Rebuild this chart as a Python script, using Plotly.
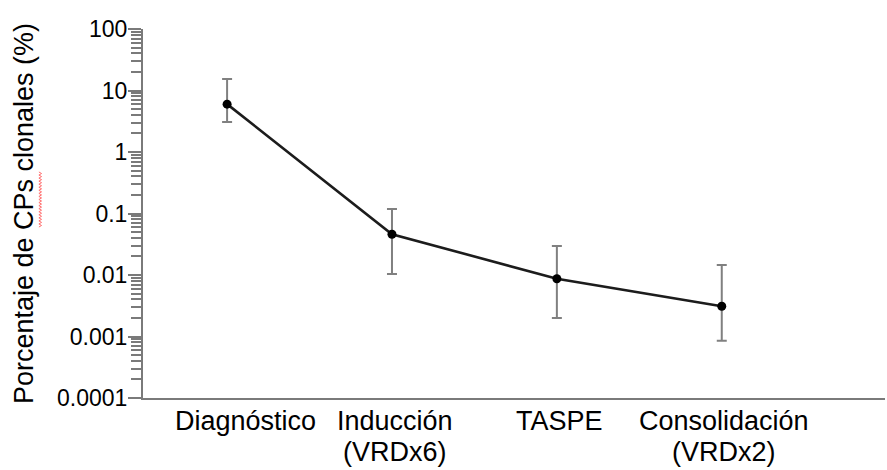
import plotly.graph_objects as go

# Treatment stages (x categories): main name and optional regimen note
stage_names = ["Diagnóstico", "Inducción", "TASPE", "Consolidación"]
stage_notes = ["", "(VRDx6)", "", "(VRDx2)"]

# Clonal plasma cell percentage (median) and range per stage
median_pct = [6.0, 0.046, 0.0087, 0.0031]
upper_pct = [15.4, 0.118, 0.0297, 0.0146]
lower_pct = [3.08, 0.0104, 0.0020, 0.00085]

# Decade tick labels for the log axis
ytick_vals = [0.0001, 0.001, 0.01, 0.1, 1, 10, 100]
ytick_text = ["0.0001", "0.001", "0.01", "0.1", "1", "10", "100"]

# Minor ticks at 2..9 within each decade
minor_vals = [k * 10.0 ** e for e in range(-4, 2) for k in range(2, 10)]

err_plus = [u - m for u, m in zip(upper_pct, median_pct)]
err_minus = [m - l for m, l in zip(median_pct, lower_pct)]

FONT = "Arial, Liberation Sans, sans-serif"
AXIS_GREY = "#7a7a7a"
LABEL_SIZE = 27
# horizontal nudge (px) of each category label
label_dx = [18, 3, 3, 2]

fig = go.Figure()
fig.add_trace(go.Scatter(
    x=list(range(len(stage_names))),
    y=median_pct,
    mode="lines+markers",
    line=dict(color="#1c1c1c", width=2.6),
    marker=dict(color="#000000", size=9),
    error_y=dict(
        type="data",
        symmetric=False,
        array=err_plus,
        arrayminus=err_minus,
        color="#808080",
        thickness=2,
        width=5,
    ),
    showlegend=False,
))

# Category labels below the x axis (two lines where a regimen is given)
annotations = []
for i, (name, note) in enumerate(zip(stage_names, stage_notes)):
    annotations.append(dict(
        x=i, xref="x", y=0, yref="paper", yanchor="top", xanchor="center",
        yshift=-6, xshift=label_dx[i], text=name, showarrow=False,
        font=dict(size=LABEL_SIZE, family=FONT, color="#000000")))
    if note:
        annotations.append(dict(
            x=i, xref="x", y=0, yref="paper", yanchor="top", xanchor="center",
            yshift=-37, xshift=label_dx[i], text=note, showarrow=False,
            font=dict(size=LABEL_SIZE, family=FONT, color="#000000")))

# Red wavy spell-check underline beside "CPs" in the axis title
x0 = -0.1385
amp = 0.0018
y_top, y_bot = 0.6125, 0.4634
n = 36
pts = []
for i in range(n + 1):
    yy = y_top - (y_top - y_bot) * i / n
    xx = x0 + (amp if i % 2 else -amp)
    pts.append((xx, yy))
path = "M " + " L ".join(f"{px},{py}" for px, py in pts)

fig.update_layout(
    width=887,
    height=470,
    margin=dict(l=143, r=2, t=29, b=72),
    paper_bgcolor="white",
    plot_bgcolor="white",
    font=dict(family=FONT, color="#000000"),
    annotations=annotations,
    shapes=[dict(type="path", path=path, xref="paper", yref="paper",
                 line=dict(color="#ff7070", width=1))],
    xaxis=dict(
        range=[-0.51, 3.99],
        tickvals=list(range(len(stage_names))),
        showticklabels=False,
        showline=True,
        linecolor=AXIS_GREY,
        linewidth=2,
        ticks="",
        showgrid=False,
        zeroline=False,
        automargin=False,
    ),
    yaxis=dict(
        type="log",
        range=[-4, 2],
        tickmode="array",
        tickvals=ytick_vals,
        ticktext=ytick_text,
        tickfont=dict(size=23, family=FONT),
        showline=True,
        linecolor=AXIS_GREY,
        linewidth=2,
        ticks="outside",
        ticklen=13,
        tickwidth=2,
        tickcolor=AXIS_GREY,
        ticklabelstandoff=-4,
        minor=dict(tickmode="array", tickvals=minor_vals, ticks="outside",
                   ticklen=10, tickwidth=2, tickcolor=AXIS_GREY, showgrid=False),
        showgrid=False,
        zeroline=False,
        automargin=False,
        title=dict(text="Porcentaje de CPs clonales (%)",
                   font=dict(size=27, family=FONT), standoff=16),
    ),
)

fig.write_html("out.html")
